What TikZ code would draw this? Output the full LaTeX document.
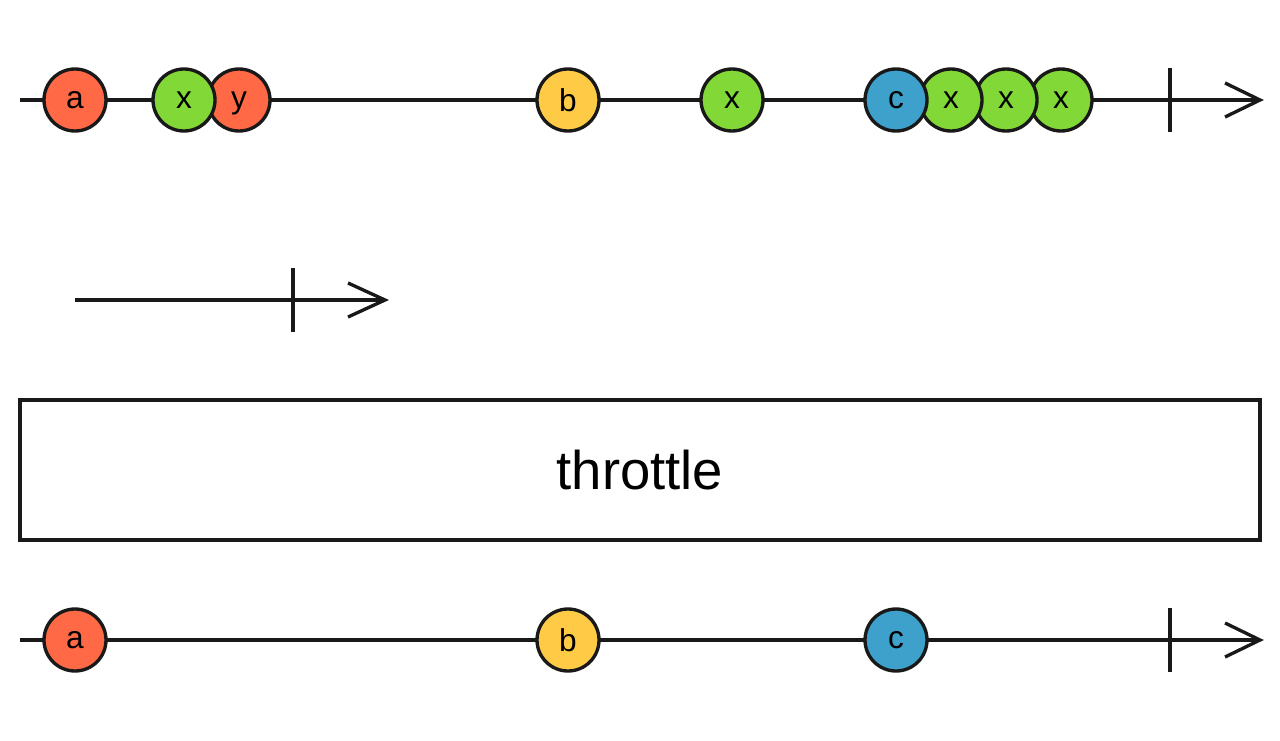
\documentclass[tikz,border=0pt]{standalone}
\usepackage{fontspec}
\setmainfont{Liberation Sans}
\usepackage{tikz}
\usetikzlibrary{positioning, calc}

\definecolor{marbred}{HTML}{FF6946}
\definecolor{marbgreen}{HTML}{82D836}
\definecolor{marbyellow}{HTML}{FFCB46}
\definecolor{marbblue}{HTML}{3EA1CB}

\begin{document}
\begin{tikzpicture}[
  x=0.02cm, y=-0.02cm,
  line/.style={line width=1.9pt, draw=black!90},
  marble/.style={draw=black!90, line width=1.9pt, circle, minimum size=1.24cm, inner sep=0pt, text depth=0pt, font=\fontsize{18}{20}\selectfont},
  opbox/.style={draw=black!90, line width=1.9pt, minimum width=24.8cm, minimum height=2.8cm, font=\fontsize{31}{38}\selectfont}
]
  \useasboundingbox[fill=white] (0,0) rectangle (1280,740);

  % source timeline
  \coordinate (s1) at (20,100);
  \coordinate (e1) at (1260,100);
  \coordinate (k1) at (1170,100);
  \draw[line] (s1) -- (e1);
  \draw[line] (k1) ++(0,-32) -- ++(0,64);
  \draw[line] (e1) ++(-35,-17) -- (e1) -- ++(-35,17);
  \node[marble, fill=marbred] (a1) at (75,100) {a};
  \node[marble, fill=marbred] (y1) at (239,100) {y};
  \node[marble, fill=marbgreen] (x1) at (184,100) {x};
  \node[marble, fill=marbyellow] (b1) at (568,100) {b};
  \node[marble, fill=marbgreen] (x2) at (732,100) {x};
  \node[marble, fill=marbgreen] (x5) at (1061,100) {x};
  \node[marble, fill=marbgreen] (x4) at (1006,100) {x};
  \node[marble, fill=marbgreen] (x3) at (951,100) {x};
  \node[marble, fill=marbblue] (c1) at (896,100) {c};

  % duration
  \coordinate (s2) at (75,300);
  \coordinate (e2) at (385,300);
  \coordinate (k2) at (293,300);
  \draw[line] (s2) -- (e2);
  \draw[line] (k2) ++(0,-32) -- ++(0,64);
  \draw[line] (e2) ++(-37,-17) -- (e2) -- ++(-37,17);

  % operator
  \node[opbox] (op) at (640,470) {throttle};

  % result timeline
  \coordinate (s3) at (20,640);
  \coordinate (e3) at (1260,640);
  \coordinate (k3) at (1170,640);
  \draw[line] (s3) -- (e3);
  \draw[line] (k3) ++(0,-32) -- ++(0,64);
  \draw[line] (e3) ++(-35,-17) -- (e3) -- ++(-35,17);
  \node[marble, fill=marbred] (a2) at (75,640) {a};
  \node[marble, fill=marbyellow] (b2) at (568,640) {b};
  \node[marble, fill=marbblue] (c2) at (896,640) {c};
\end{tikzpicture}
\end{document}
